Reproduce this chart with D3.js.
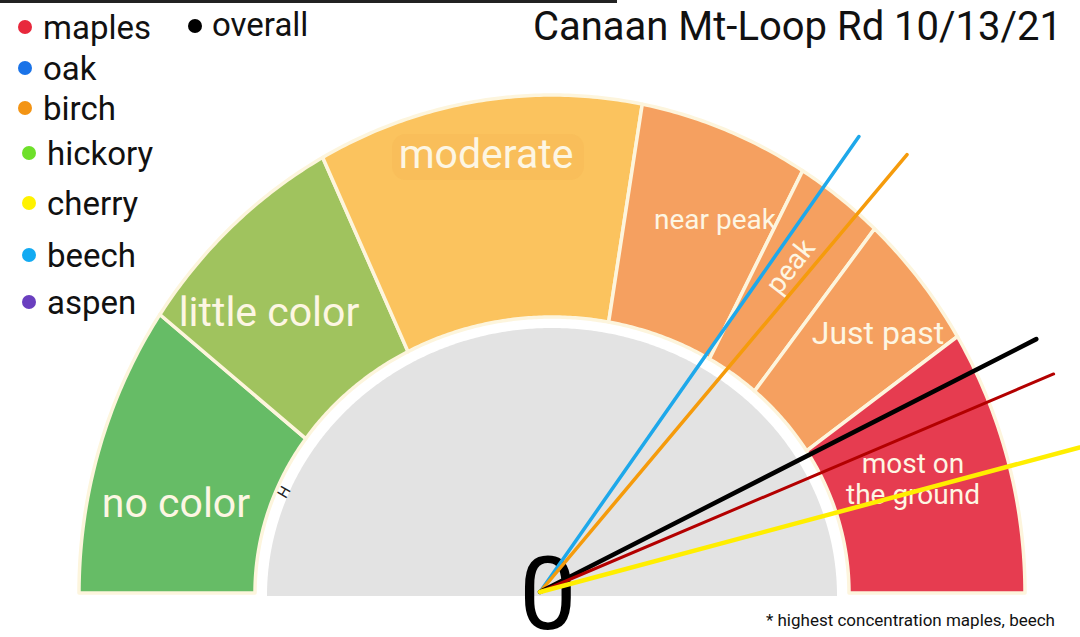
<!DOCTYPE html>
<html>
<head>
<meta charset="utf-8">
<script src="https://cdn.jsdelivr.net/npm/d3@7"></script>
<style>
  body { margin: 0; background: #fff; }
  text { font-family: Roboto, "Noto Sans", sans-serif; }
</style>
</head>
<body>
<svg id="gauge" width="1080" height="637"></svg>
<script>
// gauge bands, positions in degrees (0 = left end, 180 = right end)
var bandNames = ["no color", "little color", "moderate", "near peak", "peak", "Just past", "most on the ground"];
var bandStart = [0, 34, 61, 101, 122, 133, 149];
var bandEnd = [34, 61, 101, 122, 133, 149, 180];

// needles
var needleNames = ["beech", "birch", "overall", "maples", "cherry"];
var needleValues = [125, 130, 153, 157, 165];

// legend
var legendNames = ["maples", "oak", "birch", "hickory", "cherry", "beech", "aspen"];
var legendColors = ["#e8283c", "#1a73e8", "#f39414", "#6ee02a", "#fff200", "#12aaf2", "#6a3fbf"];

var title = "Canaan Mt-Loop Rd 10/13/21";
var footnote = "* highest concentration maples, beech";

var svg = d3.select("#gauge");

var cx = 552, cy = 593;
var outer = {rx: 473, ry: 498},
    inner = {rx: 297, ry: 276},
    core = {rx: 285, ry: 268};

var angle = d3.scaleLinear().domain([0, 180]).range([Math.PI, 0]);

function pt(v, r) {
    var a = angle(v);
    return [cx + r.rx * Math.cos(a), cy - r.ry * Math.sin(a)];
}

var line = d3.line();

function band(v0, v1, ro, ri) {
    var steps = d3.range(v0, v1, 0.5).concat([v1]);
    var pts = steps.map(function (v) { return pt(v, ro); });
    if (ri) {
        pts = pts.concat(steps.slice().reverse().map(function (v) { return pt(v, ri); }));
    }
    return line(pts) + "Z";
}

var bandColors = ["#66bc66", "#a0c35e", "#fbc35e", "#f5a060", "#f5a060", "#f5a060", "#e63c50"];

// top-left dark edge
svg.append("rect").attr("x", 0).attr("y", 0).attr("width", 617).attr("height", 3).attr("fill", "#222");

// bands
svg.append("g").selectAll("path")
    .data(bandNames)
    .enter().append("path")
    .attr("d", function (d, i) { return band(bandStart[i], bandEnd[i], outer, inner); })
    .attr("fill", function (d, i) { return bandColors[i]; })
    .attr("stroke", "#fdf5dd")
    .attr("stroke-width", 3.5)
    .attr("stroke-linejoin", "round");

// grey core
svg.append("path")
    .attr("d", band(0, 180, core, null))
    .attr("transform", "translate(0,3)")
    .attr("fill", "#e3e3e3");

// smudge behind "moderate"
svg.append("rect")
    .attr("x", 392).attr("y", 134).attr("width", 192).attr("height", 46).attr("rx", 14)
    .attr("fill", "#f8b956").attr("opacity", 0.5);

// band labels
var labelSpots = [
    {x: 176, y: 503, size: 41, lines: ["no color"]},
    {x: 269, y: 312, size: 41, lines: ["little color"]},
    {x: 486, y: 154, size: 41, lines: ["moderate"]},
    {x: 715, y: 219, size: 28, lines: ["near peak"]},
    {x: 790, y: 266, size: 28, lines: ["peak"], rot: -52},
    {x: 878, y: 333, size: 32, lines: ["Just past"]},
    {x: 913, y: 479, size: 28, lines: ["most on", "the ground"]}
];

bandNames.forEach(function (name, i) {
    var s = labelSpots[i];
    var t = svg.append("text")
        .attr("text-anchor", "middle")
        .attr("font-size", s.size)
        .attr("fill", "#fdf6e3")
        .attr("transform", "translate(" + s.x + "," + s.y + ")" + (s.rot ? " rotate(" + s.rot + ")" : ""));
    var lines = s.lines;
    lines.forEach(function (l, j) {
        t.append("tspan")
            .attr("x", 0)
            .attr("y", (j - (lines.length - 1) / 2) * 31)
            .attr("dy", "0.35em")
            .text(l);
    });
});

// small pen mark near the inner edge
svg.append("text")
    .attr("transform", "translate(284,492) rotate(-60)")
    .attr("text-anchor", "middle").attr("dy", "0.35em")
    .attr("font-size", 15).attr("fill", "#222")
    .text("H");

// big zero at the hub
var hub = [540, 592];
svg.append("text")
    .attr("x", 548).attr("y", 629)
    .attr("text-anchor", "middle")
    .attr("font-size", 102)
    .attr("fill", "#000")
    .text("0");

// needles
var needleColors = {beech: "#1ea8ea", birch: "#f59b0c", overall: "#000", maples: "#b30000", cherry: "#ffee00"};
var needleWidths = {beech: 3.5, birch: 3.5, overall: 4.5, maples: 3, cherry: 4.5};
var needleLen = {beech: 556, birch: 571, overall: 557, maples: 558, cherry: 600};

svg.append("g").selectAll("line")
    .data(needleNames)
    .enter().append("line")
    .attr("x1", hub[0]).attr("y1", hub[1])
    .attr("x2", function (d, i) { return hub[0] + needleLen[d] * Math.cos(angle(needleValues[i])); })
    .attr("y2", function (d, i) { return hub[1] - needleLen[d] * Math.sin(angle(needleValues[i])); })
    .attr("stroke", function (d) { return needleColors[d]; })
    .attr("stroke-width", function (d) { return needleWidths[d]; })
    .attr("stroke-linecap", "round");

// legend
var legendY = [27, 68, 108, 153, 203, 255, 302];
var legend = svg.append("g");
legend.selectAll("circle")
    .data(legendNames)
    .enter().append("circle")
    .attr("cx", function (d, i) { return i < 3 ? 25 : 29; })
    .attr("cy", function (d, i) { return legendY[i]; })
    .attr("r", 7)
    .attr("fill", function (d, i) { return legendColors[i]; });
legend.selectAll("text")
    .data(legendNames)
    .enter().append("text")
    .attr("x", function (d, i) { return i < 3 ? 43 : 47; })
    .attr("y", function (d, i) { return legendY[i]; })
    .attr("dy", "0.35em")
    .attr("font-size", 33)
    .attr("fill", "#111")
    .text(function (d) { return d; });

legend.append("circle").attr("cx", 195).attr("cy", 26).attr("r", 7).attr("fill", "#000");
legend.append("text").attr("x", 212).attr("y", 24).attr("dy", "0.35em")
    .attr("font-size", 33).attr("fill", "#111").text("overall");

// title and footnote
svg.append("text")
    .attr("x", 1062).attr("y", 40)
    .attr("text-anchor", "end")
    .attr("font-size", 40)
    .attr("fill", "#111")
    .text(title);

svg.append("text")
    .attr("x", 1055).attr("y", 626)
    .attr("text-anchor", "end")
    .attr("font-size", 17)
    .attr("fill", "#111")
    .text(footnote);
</script>
</body>
</html>
